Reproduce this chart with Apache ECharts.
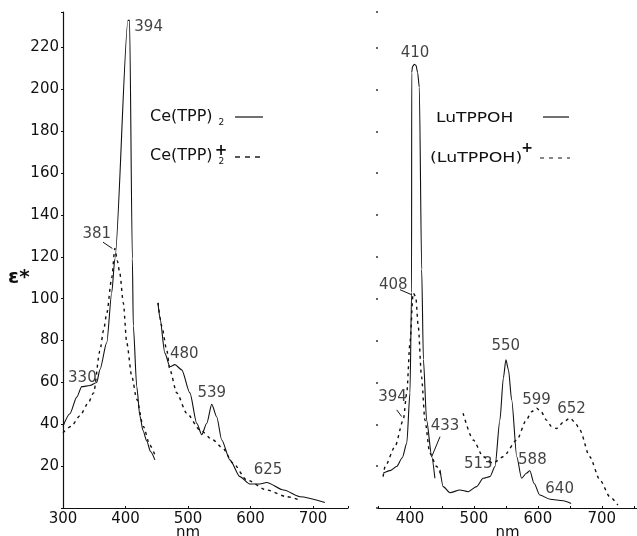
<!DOCTYPE html>
<html>
<head>
<meta charset="utf-8">
<script src="https://cdn.jsdelivr.net/npm/echarts@6/dist/echarts.min.js"></script>
<style>
  html, body { margin: 0; padding: 0; background: #fff; }
  #chart { width: 637px; height: 536px; }
</style>
</head>
<body>
<div id="chart"></div>
<script>
// Ce(TPP)2 (left panel), [nm, eps*]
const ceSolidA = [[300,39],[311,45],[322,53],[330,58],[343,58.5],[354,60],[359,66],[370,79],[378,103],[383,119],
  [404,233],[406.5,233],[411,119],[412.5,87],[418,58],[423,44],[428,37],[434,32],[440,27],[447,23]];
const ceSolidB = [[452,98],[455,91],[463,74],[471,67.5],[479,68.5],[490,66],[503,55],[514,40.5],[522,35],[530,40.5],
  [538,49.5],[546,43.5],[554,32.5],[567,23],[583,15],[599,11.5],[615,11.5],[626,12.2],[653,8.6],[679,5.4],[719,2.6]];
const ceDashA = [[300,36],[313,39],[327,44],[340,50],[349,55],[359,75],[365,85],[370,93],[378,110],[383,124],
  [387,118],[391,112],[396.5,98],[402,79],[410,63],[418,52],[428.5,39],[439,30],[447,25.4]];
const ceDashB = [[452,98],[458,87],[466,75.5],[471,66],[482,55],[498,45.3],[519,37.3],[540,32.5],[556,28.5],
  [572,21.4],[594,13.4],[626,8.6],[658,5.4],[679,3.8]];

// LuTPPOH (right panel)
const luSolidA = [[358,16.6],[370,18],[379,19.8],[388,24],[395,31],[400,55],[402.5,103],[402.7,208],[404,211],
  [407,212],[409.4,211.5],[412,208],[414.6,201],[418.3,114],[421,71],[426,42],[434,24.5],[439,14.2]];
const luSolidB = [[447,18.2],[452,10.2],[462.5,7.3],[478,8.6],[491,7.8],[504,10.2],[514.5,14.2],[525,15],[533,19.8],
  [540.6,42],[546,62],[550,70.8],[554,66],[559,51.7],[567,24.5],[574.5,14.2],[582,16.6],[587.5,17.8],[594,11.8],
  [603,6.2],[619,4.2],[639.5,3.5],[652,2.2]];
const luDashA = [[358,15],[361,19.8],[376.5,29.3],[389.5,42],[395,55],[400,79],[405,102.7],[409,101],[413,86.7],
  [418,62.8],[423.4,42],[431,26.2],[441.7,19.8],[449.5,15]];
const luDashB = [[483,45.3],[499,32.5],[514.5,24.5],[530,21.4],[545.8,24.5],[567,32.5],[582,42],[590,46],[598,47.7],
  [605,46],[613.5,42],[621,39],[629,38],[640,41],[650,43],[658,41],[665.6,37.3],[681,24.5],[697,13.4],[712.5,5.4],[725,1.4]];

// peak labels: [text, nm, eps*]
const ceLabels = [['394',437,230],['381',354,131],['330',331,62],['480',494,73.5],['539',538,55],['625',628,18]];
const luLabels = [['410',408,217.5],['408',374,106.7],['394',372.7,53],['433',454.7,38.9],['550',549.7,77.2],
  ['513',506.8,21],['599',598,51.7],['652',652.6,47.4],['588',591.4,23],['640',634,9]];

// leader lines: [nm1, eps1, nm2, eps2]
const ceLeaders = [[364,127,379,124]];
const luLeaders = [[384.4,104.3,402.7,101.9],[379.2,46.9,387,43.7],[447,34.1,434,24.5]];

const font = 'DejaVu Sans';
const chart = echarts.init(document.getElementById('chart'));

function curve(data, idx, dashed) {
  return {
    type: 'line', data: data, xAxisIndex: idx, yAxisIndex: idx,
    showSymbol: false, smooth: 0.25, smoothMonotone: 'x', silent: true,
    lineStyle: { color: '#111', width: dashed ? 1.4 : 1.1, type: dashed ? [3, 4] : 'solid' }
  };
}
function labels(list, idx) {
  return {
    type: 'scatter', xAxisIndex: idx, yAxisIndex: idx, symbolSize: 2, silent: true,
    itemStyle: { color: 'rgba(0,0,0,0)' },
    data: list.map(d => ({ value: [d[1], d[2]], name: d[0] })),
    label: { show: true, position: 'inside', formatter: p => p.name,
      color: '#111', fontFamily: font, fontSize: 15 }
  };
}
function leaders(list, idx) {
  return list.map(l => ({
    type: 'line', xAxisIndex: idx, yAxisIndex: idx, showSymbol: false, silent: true,
    data: [[l[0], l[1]], [l[2], l[3]]], lineStyle: { color: '#111', width: 1 }
  }));
}

const axisLbl = { color: '#111', fontFamily: font, fontSize: 15 };
const legRich = { m: { fontFamily: font, fontSize: 16 }, s: { fontFamily: font, fontSize: 9, padding: [12, 0, 0, 6] } };

const option = {
  animation: false,
  grid: [
    { left: 63, top: 12, width: 285, bottom: 28, outerBoundsMode: 'none' },
    { left: 378, top: 12, right: 0, bottom: 28, outerBoundsMode: 'none' }
  ],
  xAxis: [
    { type: 'value', gridIndex: 0, min: 300, max: 756, interval: 100,
      name: 'nm', nameLocation: 'middle', nameGap: 18, nameMoveOverlap: false,
      nameTextStyle: { color: '#111', fontFamily: font, fontSize: 15, padding: [0, 35, 0, 0] },
      axisLine: { lineStyle: { color: '#111', width: 1.2 } },
      axisTick: { inside: true, length: 2, lineStyle: { color: '#111' } },
      axisLabel: Object.assign({ margin: 4, formatter: v => (v % 100 ? '' : v) }, axisLbl),
      splitLine: { show: false } },
    { type: 'value', gridIndex: 1, min: 350, max: 755, interval: 50,
      name: 'nm', nameLocation: 'middle', nameGap: 18, nameMoveOverlap: false,
      nameTextStyle: { color: '#111', fontFamily: font, fontSize: 15 },
      axisLine: { lineStyle: { color: '#111', width: 1.2 } },
      axisTick: { inside: true, length: 2, lineStyle: { color: '#111' } },
      axisLabel: Object.assign({ margin: 4, formatter: v => (v % 100 ? '' : v) }, axisLbl),
      splitLine: { show: false } }
  ],
  yAxis: [
    { type: 'value', gridIndex: 0, min: 0, max: 237, interval: 20,
      axisLine: { show: true, lineStyle: { color: '#111', width: 1.2 } },
      axisTick: { length: 2, lineStyle: { color: '#111' } },
      axisLabel: Object.assign({ margin: 4, formatter: v => (v === 0 || v % 20 ? '' : v) }, axisLbl),
      splitLine: { show: false } },
    { type: 'value', gridIndex: 1, min: 0, max: 237, interval: 20,
      axisLine: { show: false },
      axisTick: { show: true, length: 2, lineStyle: { color: '#333', width: 1.5 } },
      axisLabel: { show: false },
      splitLine: { show: false } }
  ],
  graphic: [
    { type: 'text', left: 8, top: 268, style: { text: 'ε*', fontFamily: font, fontSize: 20, fontWeight: 'bold', fill: '#111' } },
    // left legend
    { type: 'text', x: 150, y: 117, style: { text: '{m|Ce(TPP)}{s|2}', verticalAlign: 'middle', fill: '#111', rich: legRich } },
    { type: 'line', shape: { x1: 235, y1: 117, x2: 263, y2: 117 }, style: { stroke: '#111', lineWidth: 1.2 } },
    { type: 'text', x: 150, y: 156, style: { text: '{m|Ce(TPP)}{s|2}', verticalAlign: 'middle', fill: '#111', rich: legRich } },
    { type: 'text', x: 221, y: 151, style: { text: '+', fontFamily: font, fontSize: 15, fontWeight: 'bold', fill: '#111', align: 'center', verticalAlign: 'middle' } },
    { type: 'line', shape: { x1: 235, y1: 157, x2: 263, y2: 157 }, style: { stroke: '#111', lineWidth: 1.4, lineDash: [5, 5] } },
    // right legend
    { type: 'text', x: 436, y: 118, scaleX: 1.22, style: { text: 'LuTPPOH', fontFamily: font, fontSize: 14, fill: '#111', verticalAlign: 'middle' } },
    { type: 'line', shape: { x1: 543, y1: 117, x2: 569, y2: 117 }, style: { stroke: '#111', lineWidth: 1.2 } },
    { type: 'text', x: 430, y: 158, scaleX: 1.24, style: { text: '(LuTPPOH)', fontFamily: font, fontSize: 14, fill: '#111', verticalAlign: 'middle' } },
    { type: 'text', x: 527, y: 148, style: { text: '+', fontFamily: font, fontSize: 14, fontWeight: 'bold', fill: '#111', align: 'center', verticalAlign: 'middle' } },
    { type: 'line', shape: { x1: 540, y1: 158, x2: 570, y2: 158 }, style: { stroke: '#111', lineWidth: 1.2, lineDash: [4, 5] } }
  ],
  series: [
    curve(ceSolidA, 0, false), curve(ceSolidB, 0, false),
    curve(ceDashA, 0, true), curve(ceDashB, 0, true),
    curve(luSolidA, 1, false), curve(luSolidB, 1, false),
    curve(luDashA, 1, true), curve(luDashB, 1, true),
    labels(ceLabels, 0), labels(luLabels, 1)
  ].concat(leaders(ceLeaders, 0), leaders(luLeaders, 1))
};

chart.setOption(option);
</script>
</body>
</html>
